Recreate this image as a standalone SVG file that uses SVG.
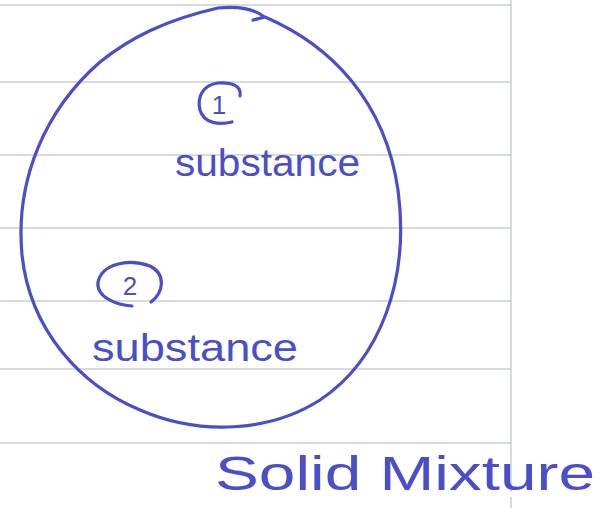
<svg xmlns="http://www.w3.org/2000/svg" width="601" height="508" viewBox="0 0 601 508">
<style>
.rule{stroke:#c9cfd3;stroke-width:1.5;fill:none}
.ink{stroke:#4a4fc9;stroke-width:3.2;fill:none;stroke-linecap:round;stroke-linejoin:round}
.hw{fill:#4a4fc9;font-family:"Liberation Sans","DejaVu Sans",sans-serif}
</style>
<rect width="601" height="508" fill="#ffffff"/>
<g id="paper">
<line class="rule" x1="0" y1="5" x2="511" y2="5"/>
<line class="rule" x1="0" y1="82" x2="511" y2="82"/>
<line class="rule" x1="0" y1="155" x2="511" y2="155"/>
<line class="rule" x1="0" y1="228" x2="511" y2="228"/>
<line class="rule" x1="0" y1="301" x2="511" y2="301"/>
<line class="rule" x1="0" y1="369" x2="511" y2="369"/>
<line class="rule" x1="0" y1="443" x2="511" y2="443"/>
<line class="rule" x1="511" y1="0" x2="511" y2="492"/>
<line class="rule" x1="511" y1="497" x2="511" y2="508"/>
</g>
<g id="mixture">
<path class="ink" d="M253,20 L265,17 C330,45 385,100 398,190 C410,280 380,360 320,400 C270,432 200,436 140,410 C80,385 30,330 22,255 C15,180 45,110 100,62 C130,38 165,20 218,8 C240,6 255,10 263,16"/>
</g>
<g id="substance1">
<path class="ink" d="M240,96 C242,86 232,82 218,83 C202,85 197,98 200,110 C204,124 220,125 232,122"/>
<text class="hw" x="219" y="114" font-size="26" text-anchor="middle">1</text>
<text class="hw" x="175" y="176" font-size="38" textLength="185" lengthAdjust="spacingAndGlyphs">substance</text>
</g>
<g id="substance2">
<path class="ink" d="M151,302 C164,292 166,274 150,266 C128,258 102,264 98,282 C96,298 118,305 132,306"/>
<text class="hw" x="130" y="295" font-size="26" text-anchor="middle">2</text>
<text class="hw" x="92" y="361" font-size="38" textLength="206" lengthAdjust="spacingAndGlyphs">substance</text>
</g>
<g id="label">
<text class="hw" x="215" y="490" font-size="48" textLength="380" lengthAdjust="spacingAndGlyphs">Solid Mixture</text>
</g>
</svg>
